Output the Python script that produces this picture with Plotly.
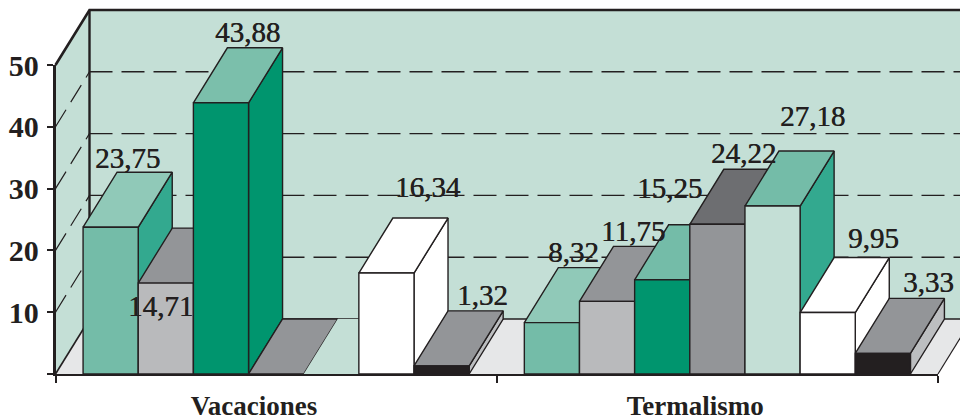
import plotly.graph_objects as go

categories = ["Vacaciones", "Termalismo"]
vacaciones = [23.75, 14.71, 43.88, 0, 0, 16.34, 1.32]
termalismo = [8.32, 11.75, 15.25, 24.22, 27.18, 9.95, 3.33]
values = [vacaciones, termalismo]
y_ticks = [0, 10, 20, 30, 40, 50]

INK = "#231f20"
front = [["#74bca8", "#b9babc", "#00956e", "#939598", "#c4dfd6", "#ffffff", "#231f20"],
         ["#74bca8", "#b9babc", "#00956e", "#939598", "#c4dfd6", "#ffffff", "#231f20"]]
top = [["#90c9b8", "#939598", "#7bbfab", "#939598", "#c4dfd6", "#ffffff", "#939598"],
       ["#90c9b8", "#939598", "#74bca8", "#6d6e71", "#74bca8", "#ffffff", "#939598"]]
side = [["#33a98f", "#939598", "#00956e", "#939598", "#c4dfd6", "#ffffff", "#bcbec0"],
        ["#33a98f", "#939598", "#00956e", "#6d6e71", "#33a98f", "#ffffff", "#bcbec0"]]
# label offsets from the bar's front-top centre, in pixels (right, up)
label_off = [[(17, 69), (-5, -23), (27, 71), None, None, (42, 86), (41, 71)],
             [(22, 71), (26, 70), (7, 92), (26, 71), (40, 90), (46, 75), (46, 71)]]

W, H = 960, 420
X0, X1 = 55.5, 938.0      # pixels of category axis ends
Y0, Y50 = 374.0, 65.0     # pixels of value 0 and 50
ux = (X1 - X0) / 2        # px per category
uy = (Y0 - Y50) / 50      # px per value unit
DX = 34 / ux              # depth in category units
DY = 55 / uy              # depth in value units
n = 7
gap = 0.5 / (n + 1)
bw = 1 / (n + 1)
XEND = 2 + DX
YMAX = 50

fig = go.Figure()


def poly(xs, ys, fill, lw=1.4, lc=INK):
    fig.add_trace(go.Scatter(x=xs + xs[:1], y=ys + ys[:1], mode="lines", fill="toself",
                             fillcolor=fill, line=dict(color=lc, width=lw),
                             hoverinfo="skip", showlegend=False))


def seg(xs, ys, lw=1.4, dash="solid"):
    fig.add_trace(go.Scatter(x=xs, y=ys, mode="lines", line=dict(color=INK, width=lw, dash=dash),
                             hoverinfo="skip", showlegend=False))


WALL = "#c4dfd6"
# back wall, side wall, floor
poly([DX, XEND, XEND, DX], [DY, DY, YMAX + DY, YMAX + DY], WALL, 0, WALL)
poly([0, DX, DX, 0], [0, DY, YMAX + DY, YMAX], WALL, 0, WALL)
poly([0, 2, XEND, DX], [0, 0, DY, DY], "#e6e7e8", 0, "#e6e7e8")
for t in y_ticks[1:]:
    if t < 50:
        seg([DX, XEND], [t + DY, t + DY], 1.4, "23px,9px")
        seg([0, DX], [t, t + DY], 1.2, "20px,9px")
seg([DX, XEND], [DY, DY], 1.4)
seg([0, DX], [0, DY], 1.6)
seg([2, XEND], [0, DY], 1.2)
seg([0, DX, XEND], [YMAX, YMAX + DY, YMAX + DY], 2.6)
seg([DX, DX], [DY, YMAX + DY], 2.4)

# bars, painted left to right
for c, vals in enumerate(values):
    for i, v in enumerate(vals):
        a = c + gap + i * bw
        b = a + bw
        flat_hidden = v == 0 and i == 4
        lw = 0 if flat_hidden else 1.4
        lc = top[c][i] if flat_hidden else INK
        if v > 0:
            poly([b, b + DX, b + DX, b], [0, DY, v + DY, v], side[c][i], lw, lc)
        poly([a, b, b + DX, a + DX], [v, v, v + DY, v + DY], top[c][i], lw, lc)
        if v > 0:
            poly([a, b, b, a], [0, 0, v, v], front[c][i], lw, lc)

# value labels
for c, vals in enumerate(values):
    for i, v in enumerate(vals):
        off = label_off[c][i]
        if off is None:
            continue
        fig.add_annotation(x=c + gap + (i + 0.5) * bw, y=v, xref="x", yref="y",
                           text=f"{v:.2f}".replace(".", ","), showarrow=False,
                           xshift=off[0], yshift=off[1],
                           font=dict(family="Liberation Serif", size=29, color=INK,
                                     shadow="0.5px 0 0 #231f20"))

# visible axes on their own scale, aligned with the marks
fig.add_trace(go.Scatter(x=[0, 2], y=[0, 50], xaxis="x2", yaxis="y2", mode="none",
                         hoverinfo="skip", showlegend=False))

axis_font = dict(family="Liberation Serif", size=30, color=INK)
fig.update_layout(
    width=W, height=H, margin=dict(l=0, r=0, t=0, b=0), autosize=False,
    paper_bgcolor="white", plot_bgcolor="rgba(0,0,0,0)", showlegend=False,
    xaxis=dict(domain=[0, 1], range=[-X0 / ux, (W - X0) / ux], visible=False, automargin=False),
    yaxis=dict(domain=[0, 1], range=[-(H - Y0) / uy, Y0 / uy], visible=False, automargin=False),
    xaxis2=dict(domain=[X0 / W, X1 / W], range=[0, 2], anchor="y2", automargin=False,
                showgrid=False, zeroline=False, showline=True, linecolor=INK, linewidth=2,
                tickmode="array", tickvals=[0.45, 1.45],
                ticktext=[f"<b>{s}</b>" for s in categories], ticklen=0, ticklabelstandoff=7,
                tickfont=dict(family="Liberation Serif", size=27, color=INK),
                minor=dict(tickmode="array", tickvals=[0, 1, 2], ticks="outside", ticklen=7,
                           tickwidth=1.5, tickcolor=INK, showgrid=False)),
    yaxis2=dict(domain=[(H - Y0) / H, (H - Y50) / H], range=[0, 50], anchor="x2", automargin=False,
                showgrid=False, zeroline=False, showline=True, linecolor=INK, linewidth=2.5,
                tickmode="array", tickvals=y_ticks, ticklabelstandoff=2,
                ticktext=[""] + [f"<b>{t}</b>" for t in y_ticks[1:]],
                ticks="outside", ticklen=6, tickwidth=1.5, tickcolor=INK, tickfont=axis_font),
)
fig.write_html("out.html", config={"displayModeBar": False},
               post_script="document.body.style.margin='0';document.documentElement.style.overflow='hidden';")
